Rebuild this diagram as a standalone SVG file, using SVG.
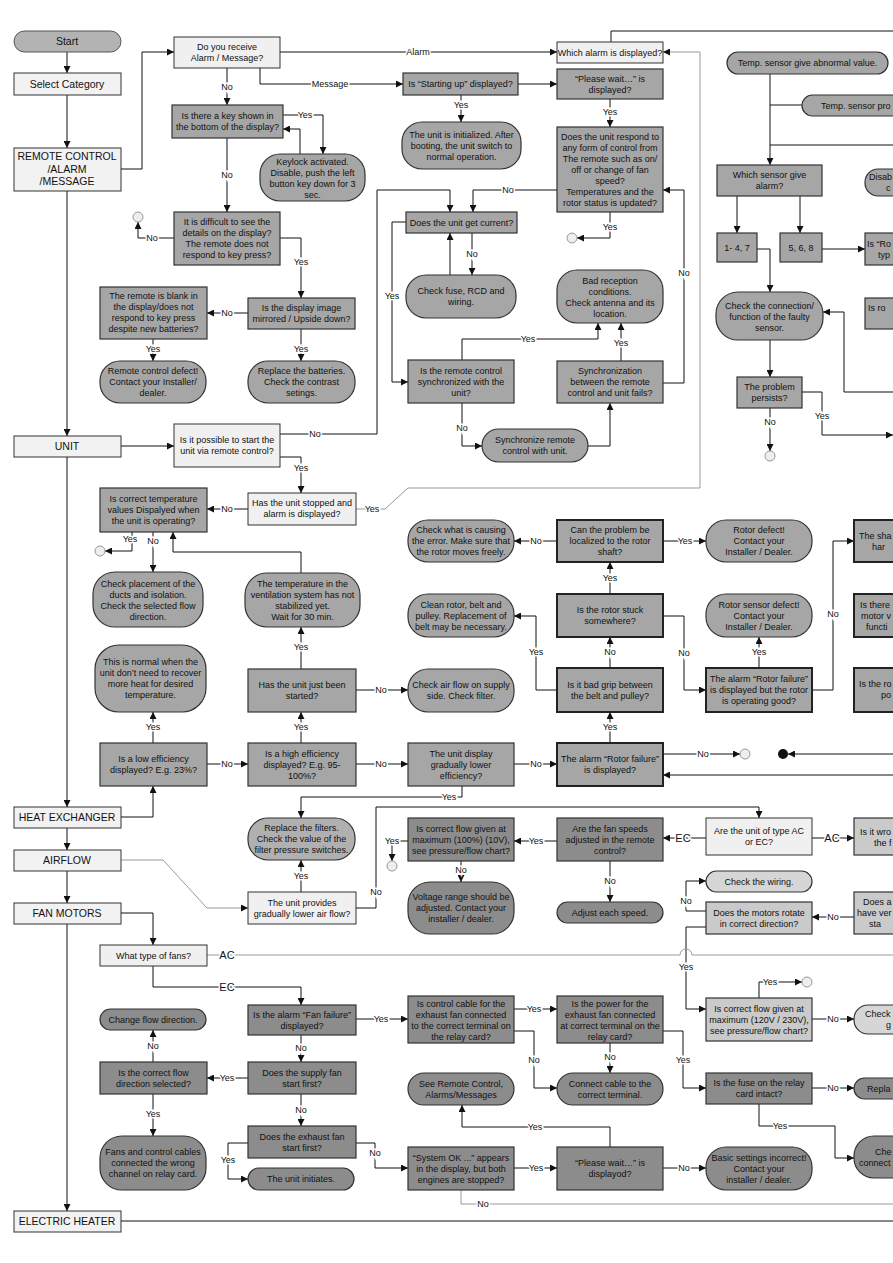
<svg xmlns="http://www.w3.org/2000/svg" width="893" height="1263" viewBox="0 0 893 1263">
<defs>
<style>
.cat{fill:#f2f2f2;stroke:#333;stroke-width:1}
.lt{fill:#f0f0f0;stroke:#333;stroke-width:1}
.g{fill:#a6a6a6;stroke:#333;stroke-width:1.2}
.gb{fill:#a6a6a6;stroke:#222;stroke-width:2}
.d{fill:#8c8c8c;stroke:#333;stroke-width:1.2}
.m{fill:#cacaca;stroke:#333;stroke-width:1.2}
.pl{fill:#d6d6d6;stroke:#333;stroke-width:1.2}
text{font-family:"Liberation Sans",Arial,sans-serif;fill:#111}
.t{font-size:9px;text-anchor:middle}
.ts{font-size:9px}
.c{font-size:10.5px;text-anchor:middle}
.l{font-size:9px;text-anchor:middle;stroke:#fff;stroke-width:3;paint-order:stroke}
.lb{font-size:11px;text-anchor:middle;stroke:#fff;stroke-width:3;paint-order:stroke}
.k{fill:none;stroke:#111;stroke-width:1}
.kg{fill:none;stroke:#999;stroke-width:1}
.ci{fill:#eee;stroke:#999;stroke-width:1}
</style>
<marker id="a" viewBox="0 0 10 10" refX="10" refY="5" markerWidth="7" markerHeight="7" orient="auto" markerUnits="userSpaceOnUse"><path d="M0,0 L10,5 L0,10 z" fill="#111"/></marker>
</defs>
<rect width="893" height="1263" fill="#fff"/>

<g id="connectors">
<path class="k" d="M67,52V73" marker-end="url(#a)"/>
<path class="k" d="M67,95V148" marker-end="url(#a)"/>
<path class="k" d="M67,191V436" marker-end="url(#a)"/>
<path class="k" d="M67,457V807" marker-end="url(#a)"/>
<path class="k" d="M67,828V850" marker-end="url(#a)"/>
<path class="k" d="M67,871V903" marker-end="url(#a)"/>
<path class="k" d="M67,924V1211" marker-end="url(#a)"/>
<path class="k" d="M121,169H142V52H174" marker-end="url(#a)"/>
<path class="k" d="M121,446H174" marker-end="url(#a)"/>
<path class="k" d="M121,817H153V786" marker-end="url(#a)"/>
<path class="kg" d="M121,860H163L207,908H248" marker-end="url(#a)"/>
<path class="k" d="M121,913H153V945" marker-end="url(#a)"/>
<path class="k" d="M121,1221H893"/>
<path class="k" d="M280,52H557" marker-end="url(#a)"/>
<path class="k" d="M260,68V84H403" marker-end="url(#a)"/>
<path class="k" d="M227,68V105" marker-end="url(#a)"/>
<path class="k" d="M283,115H323V154" marker-end="url(#a)"/>
<path class="k" d="M300,154V129H283" marker-end="url(#a)"/>
<path class="k" d="M227,138V212" marker-end="url(#a)"/>
<path class="k" d="M174,238H138V222" marker-end="url(#a)"/>
<path class="k" d="M280,238H301V298" marker-end="url(#a)"/>
<path class="k" d="M248,313H207" marker-end="url(#a)"/>
<path class="k" d="M301,329V361" marker-end="url(#a)"/>
<path class="k" d="M153,339V361" marker-end="url(#a)"/>
<path class="k" d="M518,84H557" marker-end="url(#a)"/>
<path class="k" d="M461,95V122" marker-end="url(#a)"/>
<path class="k" d="M610,99V127" marker-end="url(#a)"/>
<path class="k" d="M610,212V238H577" marker-end="url(#a)"/>
<path class="k" d="M557,190H473V212" marker-end="url(#a)"/>
<path class="k" d="M280,434H377V190H450V212" marker-end="url(#a)"/>
<path class="k" d="M472,233V275" marker-end="url(#a)"/>
<path class="k" d="M450,275V233" marker-end="url(#a)"/>
<path class="k" d="M406,222H392V382H408" marker-end="url(#a)"/>
<path class="k" d="M462,360V339H598V323" marker-end="url(#a)"/>
<path class="k" d="M621,361V323" marker-end="url(#a)"/>
<path class="k" d="M462,403V446H482" marker-end="url(#a)"/>
<path class="k" d="M588,446H610V403" marker-end="url(#a)"/>
<path class="k" d="M663,383H684V190H663" marker-end="url(#a)"/>
<path class="k" d="M611,42V31H893"/>
<path class="k" d="M280,457H301V493" marker-end="url(#a)"/>
<path class="kg" d="M356,509H385L408,488H700V52H663" marker-end="url(#a)"/>
<path class="k" d="M248,509H207" marker-end="url(#a)"/>
<path class="k" d="M132,532V551H105" marker-end="url(#a)"/>
<path class="k" d="M153,532V572" marker-end="url(#a)"/>
<path class="k" d="M301,573V552H173V532" marker-end="url(#a)"/>
<path class="k" d="M301,669V627" marker-end="url(#a)"/>
<path class="k" d="M356,690H408" marker-end="url(#a)"/>
<path class="k" d="M153,743V712" marker-end="url(#a)"/>
<path class="k" d="M207,764H248" marker-end="url(#a)"/>
<path class="k" d="M301,743V712" marker-end="url(#a)"/>
<path class="k" d="M356,764H408" marker-end="url(#a)"/>
<path class="k" d="M514,764H557" marker-end="url(#a)"/>
<path class="k" d="M462,786V797H301V818" marker-end="url(#a)"/>
<path class="k" d="M610,743V712" marker-end="url(#a)"/>
<path class="k" d="M663,754H740" marker-end="url(#a)"/>
<path class="k" d="M893,754H788" marker-end="url(#a)"/>
<path class="k" d="M893,775H663" marker-end="url(#a)"/>
<path class="k" d="M610,668V637" marker-end="url(#a)"/>
<path class="k" d="M557,690H536V616H514" marker-end="url(#a)"/>
<path class="k" d="M610,594V562" marker-end="url(#a)"/>
<path class="k" d="M663,616H684V690H706" marker-end="url(#a)"/>
<path class="k" d="M557,541H514" marker-end="url(#a)"/>
<path class="k" d="M663,541H706" marker-end="url(#a)"/>
<path class="k" d="M759,668V637" marker-end="url(#a)"/>
<path class="k" d="M812,690H833V541H854" marker-end="url(#a)"/>
<path class="k" d="M301,892V860" marker-end="url(#a)"/>
<path class="k" d="M356,908H376V807H759V818" marker-end="url(#a)"/>
<path class="k" d="M706,838H663" marker-end="url(#a)"/>
<path class="k" d="M812,838H854" marker-end="url(#a)"/>
<path class="k" d="M557,841H514" marker-end="url(#a)"/>
<path class="k" d="M610,861V902" marker-end="url(#a)"/>
<path class="k" d="M408,841H392V861" marker-end="url(#a)"/>
<path class="k" d="M461,861V882" marker-end="url(#a)"/>
<path class="k" d="M706,911H686V881H706" marker-end="url(#a)"/>
<path class="k" d="M854,917H812" marker-end="url(#a)"/>
<path class="k" d="M706,927H686V1009H706" marker-end="url(#a)"/>
<path class="kg" d="M207,955H680A6,6 0 0 1 692,955H893"/>
<path class="k" d="M153,966V987H301V1005" marker-end="url(#a)"/>
<path class="k" d="M759,998V982H802" marker-end="url(#a)"/>
<path class="k" d="M812,1019H854" marker-end="url(#a)"/>
<path class="k" d="M356,1019H408" marker-end="url(#a)"/>
<path class="k" d="M301,1035V1062" marker-end="url(#a)"/>
<path class="k" d="M514,1009H557" marker-end="url(#a)"/>
<path class="k" d="M514,1031H534V1088H557" marker-end="url(#a)"/>
<path class="k" d="M610,1043V1073" marker-end="url(#a)"/>
<path class="k" d="M663,1031H683V1088H706" marker-end="url(#a)"/>
<path class="k" d="M812,1088H854" marker-end="url(#a)"/>
<path class="k" d="M759,1104V1126H835V1158H854" marker-end="url(#a)"/>
<path class="k" d="M248,1078H207" marker-end="url(#a)"/>
<path class="k" d="M301,1094V1126" marker-end="url(#a)"/>
<path class="k" d="M153,1062V1030" marker-end="url(#a)"/>
<path class="k" d="M153,1094V1136" marker-end="url(#a)"/>
<path class="k" d="M248,1143H228V1179H248" marker-end="url(#a)"/>
<path class="k" d="M356,1143H375V1168H408" marker-end="url(#a)"/>
<path class="k" d="M514,1168H557" marker-end="url(#a)"/>
<path class="k" d="M663,1168H706" marker-end="url(#a)"/>
<path class="k" d="M610,1147V1127H462V1105" marker-end="url(#a)"/>
<path class="kg" d="M461,1190V1204H893"/>
<path class="k" d="M770,74V165" marker-end="url(#a)"/>
<path class="k" d="M770,105H802"/>
<path class="k" d="M770,145H893"/>
<path class="k" d="M737,196V233" marker-end="url(#a)"/>
<path class="k" d="M800,196V233" marker-end="url(#a)"/>
<path class="k" d="M822,249H865" marker-end="url(#a)"/>
<path class="k" d="M757,249H770V292" marker-end="url(#a)"/>
<path class="k" d="M770,340V377" marker-end="url(#a)"/>
<path class="k" d="M893,392H844V312H823" marker-end="url(#a)"/>
<path class="k" d="M802,392H822V435H893" marker-end="url(#a)"/>
<path class="k" d="M770,408V451" marker-end="url(#a)"/>

<text class="l" x="418" y="55">Alarm</text>
<text class="l" x="330" y="87">Message</text>
<text class="l" x="227" y="90">No</text>
<text class="l" x="305" y="118">Yes</text>
<text class="l" x="227" y="178">No</text>
<text class="l" x="152" y="241">No</text>
<text class="l" x="301" y="265">Yes</text>
<text class="l" x="227" y="316">No</text>
<text class="l" x="301" y="352">Yes</text>
<text class="l" x="153" y="352">Yes</text>
<text class="l" x="461" y="108">Yes</text>
<text class="l" x="610" y="115">Yes</text>
<text class="l" x="610" y="230">Yes</text>
<text class="l" x="508" y="193">No</text>
<text class="l" x="315" y="437">No</text>
<text class="l" x="472" y="257">No</text>
<text class="l" x="392" y="299">Yes</text>
<text class="l" x="528" y="342">Yes</text>
<text class="l" x="621" y="346">Yes</text>
<text class="l" x="462" y="431">No</text>
<text class="l" x="684" y="276">No</text>
<text class="l" x="301" y="471">Yes</text>
<text class="l" x="372" y="512">Yes</text>
<text class="l" x="227" y="512">No</text>
<text class="l" x="130" y="542">Yes</text>
<text class="l" x="153" y="544">No</text>
<text class="l" x="301" y="650">Yes</text>
<text class="l" x="381" y="693">No</text>
<text class="l" x="153" y="730">Yes</text>
<text class="l" x="227" y="767">No</text>
<text class="l" x="301" y="730">Yes</text>
<text class="l" x="381" y="767">No</text>
<text class="l" x="536" y="767">No</text>
<text class="l" x="449" y="800">Yes</text>
<text class="l" x="610" y="730">Yes</text>
<text class="l" x="703" y="757">No</text>
<text class="l" x="610" y="655">No</text>
<text class="l" x="536" y="655">Yes</text>
<text class="l" x="610" y="581">Yes</text>
<text class="l" x="684" y="656">No</text>
<text class="l" x="536" y="544">No</text>
<text class="l" x="685" y="544">Yes</text>
<text class="l" x="759" y="655">Yes</text>
<text class="l" x="833" y="617">No</text>
<text class="l" x="301" y="879">Yes</text>
<text class="l" x="376" y="895">No</text>
<text class="lb" x="683" y="842">EC</text>
<text class="lb" x="832" y="842">AC</text>
<text class="l" x="536" y="844">Yes</text>
<text class="l" x="610" y="884">No</text>
<text class="l" x="392" y="844">Yes</text>
<text class="l" x="461" y="873">No</text>
<text class="l" x="686" y="904">No</text>
<text class="l" x="833" y="920">No</text>
<text class="l" x="686" y="970">Yes</text>
<text class="lb" x="227" y="959">AC</text>
<text class="lb" x="227" y="991">EC</text>
<text class="l" x="770" y="985">Yes</text>
<text class="l" x="833" y="1022">No</text>
<text class="l" x="381" y="1022">Yes</text>
<text class="l" x="301" y="1051">No</text>
<text class="l" x="534" y="1012">Yes</text>
<text class="l" x="534" y="1063">No</text>
<text class="l" x="610" y="1060">No</text>
<text class="l" x="683" y="1063">Yes</text>
<text class="l" x="833" y="1091">No</text>
<text class="l" x="780" y="1129">Yes</text>
<text class="l" x="227" y="1081">Yes</text>
<text class="l" x="301" y="1113">No</text>
<text class="l" x="153" y="1049">No</text>
<text class="l" x="153" y="1117">Yes</text>
<text class="l" x="228" y="1163">Yes</text>
<text class="l" x="375" y="1156">No</text>
<text class="l" x="536" y="1171">Yes</text>
<text class="l" x="684" y="1171">No</text>
<text class="l" x="535" y="1130">Yes</text>
<text class="l" x="483" y="1207">No</text>
<text class="l" x="822" y="419">Yes</text>
<text class="l" x="770" y="425">No</text>
</g>

<g id="start"><rect x="14" y="31" width="107" height="21" rx="10.5" fill="#b3b3b3" stroke="#555"/><text class="c" x="67" y="45">Start</text></g>
<g id="select"><rect class="cat" x="14" y="73" width="107" height="22"/><text class="c" x="67" y="88">Select Category</text></g>
<g id="cat_remote"><rect class="cat" x="14" y="148" width="107" height="43"/><text class="c"><tspan x="67" y="160">REMOTE CONTROL</tspan><tspan x="67" y="173">/ALARM</tspan><tspan x="67" y="185">/MESSAGE</tspan></text></g>
<g id="cat_unit"><rect class="cat" x="14" y="436" width="107" height="21"/><text class="c" x="67" y="450">UNIT</text></g>
<g id="cat_heat"><rect class="cat" x="14" y="807" width="107" height="21"/><text class="c" x="67" y="821">HEAT EXCHANGER</text></g>
<g id="cat_airflow"><rect class="cat" x="14" y="850" width="107" height="21"/><text class="c" x="67" y="864">AIRFLOW</text></g>
<g id="cat_fan"><rect class="cat" x="14" y="903" width="107" height="21"/><text class="c" x="67" y="917">FAN MOTORS</text></g>
<g id="cat_heater"><rect class="cat" x="14" y="1211" width="107" height="21"/><text class="c" x="67" y="1225">ELECTRIC HEATER</text></g>

<g id="n_do_you"><rect class="lt" x="174" y="37" width="106" height="31"/><text class="t"><tspan x="227" y="50">Do you receive</tspan><tspan x="227" y="61">Alarm / Message?</tspan></text></g>
<g id="n_key"><rect class="g" x="172" y="105" width="111" height="33"/><text class="t"><tspan x="227.5" y="119">Is there a key shown in</tspan><tspan x="227.5" y="130">the bottom of the display?</tspan></text></g>
<g id="n_keylock"><rect class="g" x="260" y="154" width="105" height="47" rx="20"/><text class="t"><tspan x="312.5" y="165">Keylock activated.</tspan><tspan x="312.5" y="176">Disable, push the left</tspan><tspan x="312.5" y="187">button key down for 3</tspan><tspan x="312.5" y="198">sec.</tspan></text></g>
<g id="n_difficult"><rect class="g" x="174" y="212" width="106" height="53"/><text class="t"><tspan x="227" y="225">It is difficult to see the</tspan><tspan x="227" y="236">details on the display?</tspan><tspan x="227" y="247">The remote does not</tspan><tspan x="227" y="258">respond to key press?</tspan></text></g>
<g id="end1"><circle class="ci" cx="138" cy="217" r="5"/></g>
<g id="n_blank"><rect class="g" x="100" y="287" width="107" height="52"/><text class="t"><tspan x="153.5" y="299">The remote is blank in</tspan><tspan x="153.5" y="310">the display/does not</tspan><tspan x="153.5" y="321">respond to key press</tspan><tspan x="153.5" y="332">despite new batteries?</tspan></text></g>
<g id="n_mirror"><rect class="g" x="248" y="298" width="107" height="31"/><text class="t"><tspan x="301.5" y="311">Is the display image</tspan><tspan x="301.5" y="322">mirrored / Upside down?</tspan></text></g>
<g id="n_rc_defect"><rect class="g" x="100" y="361" width="106" height="42" rx="20"/><text class="t"><tspan x="153" y="374">Remote control defect!</tspan><tspan x="153" y="385">Contact your Installer/</tspan><tspan x="153" y="396">dealer.</tspan></text></g>
<g id="n_batt"><rect class="g" x="248" y="361" width="107" height="42" rx="20"/><text class="t"><tspan x="301.5" y="374">Replace the batteries.</tspan><tspan x="301.5" y="385">Check the contrast</tspan><tspan x="301.5" y="396">setings.</tspan></text></g>
<g id="n_starting"><rect class="g" x="403" y="73" width="115" height="22"/><text class="t" x="460.5" y="87">Is “Starting up” displayed?</text></g>
<g id="n_init"><rect class="g" x="402" y="122" width="119" height="47" rx="20"/><text class="t"><tspan x="461.5" y="138">The unit is initialized. After</tspan><tspan x="461.5" y="149">booting, the unit switch to</tspan><tspan x="461.5" y="160">normal operation.</tspan></text></g>
<g id="n_which_alarm"><rect class="lt" x="557" y="42" width="106" height="21"/><text class="t" x="610" y="56">Which alarm is displayed?</text></g>
<g id="n_please1"><rect class="g" x="557" y="69" width="106" height="30"/><text class="t"><tspan x="610" y="82">“Please wait…” is</tspan><tspan x="610" y="93">displayed?</tspan></text></g>
<g id="n_respond"><rect class="g" x="557" y="127" width="106" height="85"/><text class="t"><tspan x="610" y="140">Does the unit respond to</tspan><tspan x="610" y="151">any form of control from</tspan><tspan x="610" y="162">The remote such as on/</tspan><tspan x="610" y="173">off or change of fan</tspan><tspan x="610" y="184">speed?</tspan><tspan x="610" y="195">Temperatures and the</tspan><tspan x="610" y="206">rotor status is updated?</tspan></text></g>
<g id="n_current"><rect class="g" x="406" y="212" width="111" height="21"/><text class="t" x="461.5" y="226">Does the unit get current?</text></g>
<g id="end2"><circle class="ci" cx="572" cy="238" r="5"/></g>
<g id="n_fuse"><rect class="g" x="406" y="275" width="110" height="43" rx="20"/><text class="t"><tspan x="461" y="294">Check fuse, RCD and</tspan><tspan x="461" y="305">wiring.</tspan></text></g>
<g id="n_bad_rec"><rect class="g" x="557" y="270" width="106" height="53" rx="20"/><text class="t"><tspan x="610" y="284">Bad reception</tspan><tspan x="610" y="295">conditions.</tspan><tspan x="610" y="306">Check antenna and its</tspan><tspan x="610" y="317">location.</tspan></text></g>
<g id="n_sync_q"><rect class="g" x="408" y="360" width="106" height="43"/><text class="t"><tspan x="461" y="374">Is the remote control</tspan><tspan x="461" y="385">synchronized with the</tspan><tspan x="461" y="396">unit?</tspan></text></g>
<g id="n_sync_fail"><rect class="g" x="557" y="361" width="106" height="42"/><text class="t"><tspan x="610" y="374">Synchronization</tspan><tspan x="610" y="385">between the remote</tspan><tspan x="610" y="396">control and unit fails?</tspan></text></g>
<g id="n_sync_do"><rect class="g" x="482" y="429" width="106" height="33" rx="16.5"/><text class="t"><tspan x="535" y="443">Synchronize remote</tspan><tspan x="535" y="454">control with unit.</tspan></text></g>

<g id="n_possible"><rect class="lt" x="174" y="424" width="106" height="43"/><text class="t"><tspan x="227" y="443">Is it possible to start the</tspan><tspan x="227" y="454">unit via remote control?</tspan></text></g>
<g id="n_stopped"><rect class="lt" x="248" y="493" width="108" height="32"/><text class="t"><tspan x="302" y="506">Has the unit stopped and</tspan><tspan x="302" y="517">alarm is displayed?</tspan></text></g>
<g id="n_temp_ok"><rect class="g" x="100" y="488" width="107" height="44"/><text class="t"><tspan x="153.5" y="502">Is correct temperature</tspan><tspan x="153.5" y="513">values Dispalyed when</tspan><tspan x="153.5" y="524">the unit is operating?</tspan></text></g>
<g id="end3"><circle class="ci" cx="100" cy="551" r="5"/></g>
<g id="n_placement"><rect class="g" x="93" y="572" width="110" height="55" rx="22"/><text class="t"><tspan x="148" y="587">Check placement of the</tspan><tspan x="148" y="598">ducts and isolation.</tspan><tspan x="148" y="609">Check the selected flow</tspan><tspan x="148" y="620">direction.</tspan></text></g>
<g id="n_stabil"><rect class="g" x="245" y="573" width="115" height="54" rx="22"/><text class="t"><tspan x="302.5" y="587">The temperature in the</tspan><tspan x="302.5" y="598">ventilation system has not</tspan><tspan x="302.5" y="609">stabilized yet.</tspan><tspan x="302.5" y="620">Wait for 30 min.</tspan></text></g>

<g id="n_normal"><rect class="g" x="95" y="645" width="111" height="67" rx="24"/><text class="t"><tspan x="150.5" y="665">This is normal when the</tspan><tspan x="150.5" y="676">unit don’t need to recover</tspan><tspan x="150.5" y="687">more heat for desired</tspan><tspan x="150.5" y="698">temperature.</tspan></text></g>
<g id="n_started"><rect class="g" x="248" y="669" width="108" height="43"/><text class="t"><tspan x="302" y="688">Has the unit just been</tspan><tspan x="302" y="699">started?</tspan></text></g>
<g id="n_airchk"><rect class="g" x="408" y="669" width="106" height="43" rx="20"/><text class="t"><tspan x="461" y="688">Check air flow on supply</tspan><tspan x="461" y="699">side. Check filter.</tspan></text></g>
<g id="n_low_eff"><rect class="g" x="100" y="743" width="107" height="43"/><text class="t"><tspan x="153.5" y="762">Is a low efficiency</tspan><tspan x="153.5" y="773">displayed? E.g. 23%?</tspan></text></g>
<g id="n_high_eff"><rect class="g" x="248" y="743" width="108" height="43"/><text class="t"><tspan x="302" y="757">Is a high efficiency</tspan><tspan x="302" y="768">displayed? E.g. 95-</tspan><tspan x="302" y="779">100%?</tspan></text></g>
<g id="n_gradual"><rect class="g" x="408" y="743" width="106" height="43"/><text class="t"><tspan x="461" y="757">The unit display</tspan><tspan x="461" y="768">gradually lower</tspan><tspan x="461" y="779">efficiency?</tspan></text></g>
<g id="n_can_loc"><rect class="gb" x="557" y="520" width="106" height="42"/><text class="t"><tspan x="610" y="533">Can the problem be</tspan><tspan x="610" y="544">localized to the rotor</tspan><tspan x="610" y="555">shaft?</tspan></text></g>
<g id="n_cause"><rect class="g" x="408" y="520" width="106" height="42" rx="20"/><text class="t"><tspan x="461" y="533">Check what is causing</tspan><tspan x="461" y="544">the error. Make sure that</tspan><tspan x="461" y="555">the rotor moves freely.</tspan></text></g>
<g id="n_rotor_def"><rect class="g" x="706" y="520" width="106" height="42" rx="20"/><text class="t"><tspan x="759" y="533">Rotor defect!</tspan><tspan x="759" y="544">Contact your</tspan><tspan x="759" y="555">Installer / Dealer.</tspan></text></g>
<g id="n_stuck"><rect class="gb" x="557" y="594" width="106" height="43"/><text class="t"><tspan x="610" y="613">Is the rotor stuck</tspan><tspan x="610" y="624">somewhere?</tspan></text></g>
<g id="n_clean"><rect class="g" x="408" y="594" width="106" height="43" rx="20"/><text class="t"><tspan x="461" y="608">Clean rotor, belt and</tspan><tspan x="461" y="619">pulley. Replacement of</tspan><tspan x="461" y="630">belt may be necessary.</tspan></text></g>
<g id="n_sensor_def"><rect class="g" x="706" y="594" width="106" height="43" rx="20"/><text class="t"><tspan x="759" y="608">Rotor sensor defect!</tspan><tspan x="759" y="619">Contact your</tspan><tspan x="759" y="630">Installer / Dealer.</tspan></text></g>
<g id="n_grip"><rect class="gb" x="557" y="668" width="106" height="44"/><text class="t"><tspan x="610" y="687.5">Is it bad grip between</tspan><tspan x="610" y="698.5">the belt and pulley?</tspan></text></g>
<g id="n_rf_good"><rect class="gb" x="706" y="668" width="106" height="44"/><text class="t"><tspan x="759" y="682">The alarm “Rotor failure”</tspan><tspan x="759" y="693">is displayed but the rotor</tspan><tspan x="759" y="704">is operating good?</tspan></text></g>
<g id="n_rf"><rect class="gb" x="557" y="743" width="106" height="43"/><text class="t"><tspan x="610" y="762">The alarm “Rotor failure”</tspan><tspan x="610" y="773">is displayed?</tspan></text></g>
<g id="end4"><circle class="ci" cx="745" cy="754" r="5"/></g>
<g id="start5"><circle cx="783" cy="754" r="5" fill="#111"/></g>

<g id="n_filters"><rect class="g" x="248" y="818" width="107" height="42" rx="20" style="fill:#b0b0b0"/><text class="t"><tspan x="301.5" y="831">Replace the filters.</tspan><tspan x="301.5" y="842">Check the value of the</tspan><tspan x="301.5" y="853">filter pressure switches.</tspan></text></g>
<g id="n_lower_air"><rect class="lt" x="248" y="892" width="108" height="32"/><text class="t"><tspan x="302" y="905.5">The unit provides</tspan><tspan x="302" y="916.5">gradually lower air flow?</tspan></text></g>
<g id="n_flow100"><rect class="d" x="408" y="818" width="106" height="43"/><text class="t"><tspan x="461" y="832">Is correct flow given at</tspan><tspan x="461" y="843">maximum (100%) (10V),</tspan><tspan x="461" y="854">see pressure/flow chart?</tspan></text></g>
<g id="end6"><circle class="ci" cx="392" cy="866" r="5"/></g>
<g id="n_voltage"><rect class="d" x="408" y="882" width="106" height="52" rx="22"/><text class="t"><tspan x="461" y="900">Voltage range should be</tspan><tspan x="461" y="911">adjusted.  Contact your</tspan><tspan x="461" y="922">installer / dealer.</tspan></text></g>
<g id="n_fan_speeds"><rect class="d" x="557" y="818" width="106" height="43"/><text class="t"><tspan x="610" y="832">Are the fan speeds</tspan><tspan x="610" y="843">adjusted in the remote</tspan><tspan x="610" y="854">control?</tspan></text></g>
<g id="n_adjust"><rect class="d" x="557" y="902" width="106" height="21" rx="10.5"/><text class="t" x="610" y="916">Adjust each speed.</text></g>
<g id="n_ac_ec"><rect class="lt" x="706" y="818" width="106" height="37"/><text class="t"><tspan x="759" y="834">Are the unit of type AC</tspan><tspan x="759" y="845">or EC?</tspan></text></g>

<g id="n_wiring"><rect class="pl" x="706" y="871" width="106" height="21" rx="10.5"/><text class="t" x="759" y="885">Check the wiring.</text></g>
<g id="n_rotate"><rect class="m" x="706" y="902" width="106" height="32"/><text class="t"><tspan x="759" y="915.5">Does the motors rotate</tspan><tspan x="759" y="926.5">in correct direction?</tspan></text></g>
<g id="n_fans_type"><rect class="lt" x="100" y="945" width="107" height="21"/><text class="t" x="153.5" y="959">What type of fans?</text></g>
<g id="n_flow120"><rect class="m" x="706" y="998" width="106" height="43"/><text class="t"><tspan x="759" y="1012">Is correct flow given at</tspan><tspan x="759" y="1023">maximum (120V / 230V),</tspan><tspan x="759" y="1034">see pressure/flow chart?</tspan></text></g>
<g id="end7"><circle class="ci" cx="807" cy="982" r="5"/></g>
<g id="n_fan_fail"><rect class="d" x="248" y="1005" width="108" height="30"/><text class="t"><tspan x="302" y="1018">Is the alarm “Fan failure”</tspan><tspan x="302" y="1029">displayed?</tspan></text></g>
<g id="n_cable"><rect class="d" x="408" y="996" width="106" height="47"/><text class="t"><tspan x="461" y="1007">Is control cable for the</tspan><tspan x="461" y="1018">exhaust fan connected</tspan><tspan x="461" y="1029">to the correct terminal on</tspan><tspan x="461" y="1040">the relay card?</tspan></text></g>
<g id="n_power"><rect class="d" x="557" y="996" width="106" height="47"/><text class="t"><tspan x="610" y="1007">Is the power for the</tspan><tspan x="610" y="1018">exhaust fan connected</tspan><tspan x="610" y="1029">at correct terminal on the</tspan><tspan x="610" y="1040">relay card?</tspan></text></g>
<g id="n_change_dir"><rect class="d" x="100" y="1009" width="106" height="21" rx="10.5"/><text class="t" x="153" y="1023">Change flow direction.</text></g>
<g id="n_flow_dir"><rect class="d" x="100" y="1062" width="107" height="32"/><text class="t"><tspan x="153.5" y="1075.5">Is the correct flow</tspan><tspan x="153.5" y="1086.5">direction selected?</tspan></text></g>
<g id="n_supply"><rect class="d" x="248" y="1062" width="108" height="32"/><text class="t"><tspan x="302" y="1075.5">Does the supply fan</tspan><tspan x="302" y="1086.5">start first?</tspan></text></g>
<g id="n_connect"><rect class="d" x="557" y="1073" width="106" height="32" rx="16"/><text class="t"><tspan x="610" y="1086.5">Connect cable to the</tspan><tspan x="610" y="1097.5">correct terminal.</tspan></text></g>
<g id="n_see_rc"><rect class="d" x="408" y="1073" width="106" height="32" rx="16"/><text class="t"><tspan x="461" y="1086.5">See Remote Control,</tspan><tspan x="461" y="1097.5">Alarms/Messages</tspan></text></g>
<g id="n_fuse_ok"><rect class="d" x="706" y="1073" width="106" height="31"/><text class="t"><tspan x="759" y="1086">Is the fuse on the relay</tspan><tspan x="759" y="1097">card intact?</tspan></text></g>
<g id="n_wrong"><rect class="d" x="100" y="1136" width="106" height="54" rx="22"/><text class="t"><tspan x="153" y="1155">Fans and control cables</tspan><tspan x="153" y="1166">connected the wrong</tspan><tspan x="153" y="1177">channel on relay card.</tspan></text></g>
<g id="n_exhaust"><rect class="d" x="248" y="1126" width="108" height="32"/><text class="t"><tspan x="302" y="1139.5">Does the exhaust fan</tspan><tspan x="302" y="1150.5">start first?</tspan></text></g>
<g id="n_initiates"><rect class="d" x="248" y="1168" width="106" height="22" rx="11"/><text class="t" x="301" y="1182">The unit initiates.</text></g>
<g id="n_sysok"><rect class="d" x="408" y="1147" width="106" height="43"/><text class="t"><tspan x="461" y="1161">“System OK ...” appears</tspan><tspan x="461" y="1172">in the display, but both</tspan><tspan x="461" y="1183">engines are stopped?</tspan></text></g>
<g id="n_please2"><rect class="d" x="557" y="1147" width="106" height="43"/><text class="t"><tspan x="610" y="1166">“Please wait…” is</tspan><tspan x="610" y="1177">displayod?</tspan></text></g>
<g id="n_basic"><rect class="d" x="706" y="1147" width="106" height="43" rx="20"/><text class="t"><tspan x="759" y="1161">Basic settings incorrect!</tspan><tspan x="759" y="1172">Contact your</tspan><tspan x="759" y="1183">installer / dealer.</tspan></text></g>

<g id="n_temp_abn"><rect class="g" x="727" y="52" width="161" height="22" rx="11"/><text class="t" x="807.5" y="66">Temp. sensor give abnormal value.</text></g>
<g id="n_temp_pro"><rect class="g" x="802" y="95" width="130" height="21" rx="10.5"/><text class="ts" x="821" y="109">Temp. sensor pro</text></g>
<g id="n_which_sensor"><rect class="g" x="717" y="165" width="105" height="31"/><text class="t"><tspan x="769.5" y="178">Which sensor give</tspan><tspan x="769.5" y="189">alarm?</tspan></text></g>
<g id="n_disab"><rect class="g" x="865" y="169" width="70" height="27" rx="13"/><text class="ts"><tspan x="869" y="180">Disab</tspan><tspan x="886" y="191">c</tspan></text></g>
<g id="n_14_7"><rect class="g" x="717" y="233" width="40" height="29"/><text class="t" x="737" y="251">1- 4, 7</text></g>
<g id="n_568"><rect class="g" x="780" y="233" width="42" height="29"/><text class="t" x="801" y="251">5, 6, 8</text></g>
<g id="n_is_ro"><rect class="g" x="865" y="233" width="70" height="32"/><text class="ts"><tspan x="867" y="247">Is “Ro</tspan><tspan x="878" y="258">typ</tspan></text></g>
<g id="n_check_conn"><rect class="g" x="716" y="292" width="107" height="48" rx="22"/><text class="t"><tspan x="769.5" y="309">Check the connection/</tspan><tspan x="769.5" y="320">function of the faulty</tspan><tspan x="769.5" y="331">sensor.</tspan></text></g>
<g id="n_is_ro2"><rect class="g" x="865" y="298" width="70" height="31"/><text class="ts" x="868" y="311">Is ro</text></g>
<g id="n_persist"><rect class="g" x="737" y="377" width="65" height="31"/><text class="t"><tspan x="769.5" y="390">The problem</tspan><tspan x="769.5" y="401">persists?</tspan></text></g>
<g id="end8"><circle class="ci" cx="770" cy="456" r="5"/></g>
<g id="n_shaft"><rect class="gb" x="854" y="520" width="70" height="42"/><text class="ts"><tspan x="859" y="539">The sha</tspan><tspan x="872" y="550">har</tspan></text></g>
<g id="n_is_there"><rect class="gb" x="854" y="594" width="70" height="43"/><text class="ts"><tspan x="860" y="608">Is there</tspan><tspan x="861" y="619">motor v</tspan><tspan x="866" y="630">functi</tspan></text></g>
<g id="n_is_the_ro"><rect class="gb" x="854" y="668" width="70" height="44"/><text class="ts"><tspan x="859" y="687">Is the ro</tspan><tspan x="881" y="698">po</tspan></text></g>
<g id="n_wro"><rect class="m" x="854" y="818" width="70" height="37"/><text class="ts"><tspan x="860" y="835">Is it wro</tspan><tspan x="874" y="846">the f</tspan></text></g>
<g id="n_does_a"><rect class="m" x="854" y="892" width="70" height="42"/><text class="ts"><tspan x="863" y="905">Does a</tspan><tspan x="857" y="916">have ver</tspan><tspan x="869" y="927">sta</tspan></text></g>
<g id="n_check_g"><rect class="pl" x="854" y="1005" width="70" height="29" rx="14"/><text class="ts"><tspan x="865" y="1017">Check</tspan><tspan x="886" y="1028">g</tspan></text></g>
<g id="n_repla"><rect class="d" x="854" y="1078" width="70" height="21" rx="10.5"/><text class="ts" x="867" y="1092">Repla</text></g>
<g id="n_che"><rect class="d" x="854" y="1136" width="70" height="42" rx="20"/><text class="ts"><tspan x="875" y="1155">Che</tspan><tspan x="859" y="1166">connect</tspan></text></g>
</svg>
